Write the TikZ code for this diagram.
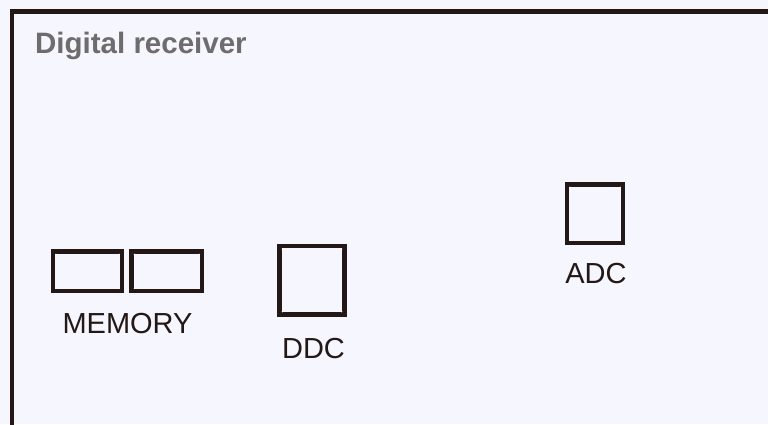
\documentclass[tikz,border=0pt]{standalone}
\usepackage{fontspec}
\setmainfont{Liberation Sans}
\usetikzlibrary{calc}
\definecolor{pagebg}{HTML}{F6F6FE}
\definecolor{ink}{HTML}{231815}
\definecolor{titlegray}{HTML}{6E6C6C}
\tikzset{
  chip/.style={draw=ink, line width=4.4pt, rectangle, inner sep=0pt, outer sep=0pt, line join=miter},
  lbl/.style={anchor=base, inner sep=0pt, text=ink, font=\fontsize{29}{34}\selectfont},
  ttl/.style={anchor=base west, inner sep=0pt, text=titlegray, font=\fontsize{29.5}{34}\selectfont\bfseries},
  pin/.style={fill=white, draw=none, circle, inner sep=0pt, minimum size=1.6pt}
}
\begin{document}
\begin{tikzpicture}[x=1pt, y=-1pt]
  % canvas
  \fill[pagebg] (0,0) rectangle (768,424);
  \useasboundingbox (0,0) rectangle (768,424);

  % enclosure of the receiver (runs past the right and bottom edges)
  \coordinate (frameBL) at (12,430);
  \coordinate (frameTL) at (12,11.7);
  \coordinate (frameTR) at (775,11.7);
  \draw[ink, line width=4.6pt, line join=miter] (frameBL) -- (frameTL) -- (frameTR);

  \node[ttl] (title) at (35,53) {Digital receiver};

  % components
  \node[chip, minimum width=68.9pt, minimum height=39.6pt] (mem1) at (87.65,271.3) {};
  \node[chip, minimum width=70.6pt, minimum height=39.6pt] (mem2) at (166.8,271.3) {};
  \node[chip, minimum width=65pt, minimum height=68.3pt] (ddc) at (312,280.35) {};
  \node[chip, minimum width=55.9pt, minimum height=58.6pt] (adc) at (595.15,213.8) {};

  % tiny highlights just inside the inner corners
  \def\d{2.9}
  \foreach \n in {mem1,mem2,ddc,adc}{
    \node[pin] at ($(\n.north west)+(\d,\d)$) {};
    \node[pin] at ($(\n.north east)+(-\d,\d)$) {};
    \node[pin] at ($(\n.south west)+(\d,-\d)$) {};
    \node[pin] at ($(\n.south east)+(-\d,-\d)$) {};
  }

  % labels
  \node[lbl] (memlbl) at (127.5,333) {MEMORY};
  \node[lbl] (ddclbl) at (313.5,358) {DDC};
  \node[lbl] (adclbl) at (596,283.5) {ADC};
\end{tikzpicture}
\end{document}
